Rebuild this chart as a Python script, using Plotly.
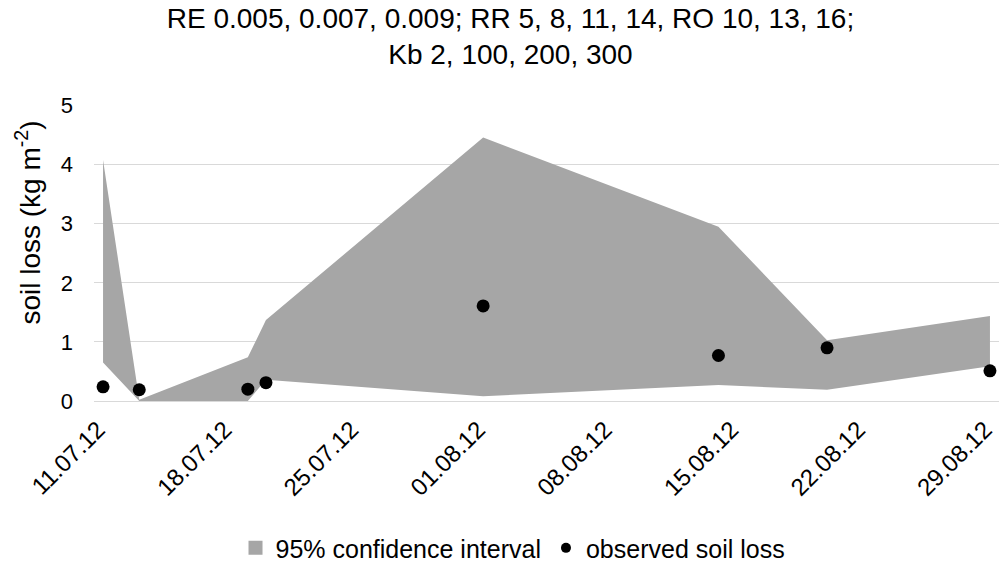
import plotly.graph_objects as go

band_dates = ["2012-07-11", "2012-07-13", "2012-07-19", "2012-07-20",
              "2012-08-01", "2012-08-14", "2012-08-20", "2012-08-29"]
band_upper = [4.08, 0.02, 0.74, 1.37, 4.46, 2.95, 1.03, 1.44]
band_lower = [0.65, 0.0, 0.0, 0.36, 0.08, 0.27, 0.19, 0.59]

obs_dates = ["2012-07-11", "2012-07-13", "2012-07-19", "2012-07-20",
             "2012-08-01", "2012-08-14", "2012-08-20", "2012-08-29"]
obs_values = [0.24, 0.19, 0.20, 0.31, 1.61, 0.77, 0.90, 0.51]

tick_dates = ["2012-07-11", "2012-07-18", "2012-07-25", "2012-08-01",
              "2012-08-08", "2012-08-15", "2012-08-22", "2012-08-29"]
tick_labels = ["11.07.12", "18.07.12", "25.07.12", "01.08.12",
               "08.08.12", "15.08.12", "22.08.12", "29.08.12"]

y_title = "soil loss (kg m<sup>-2</sup>)"
chart_title = "RE 0.005, 0.007, 0.009; RR 5, 8, 11, 14, RO 10, 13, 16;<br>Kb 2, 100, 200, 300"

FONT = "Liberation Sans, Arial, sans-serif"
BAND = "#a6a6a6"
GRID = "#d9d9d9"

fig = go.Figure()
fig.add_trace(go.Scatter(
    x=band_dates, y=band_lower, mode="lines", line=dict(width=0, color=BAND),
    showlegend=False, hoverinfo="skip", legendgroup="ci"))
fig.add_trace(go.Scatter(
    x=band_dates, y=band_upper, mode="lines", line=dict(width=0, color=BAND),
    fill="tonexty", fillcolor=BAND, showlegend=False, legendgroup="ci",
    name="95% confidence interval"))
# legend entries
fig.add_trace(go.Scatter(
    x=[None], y=[None], mode="markers", name="95% confidence interval",
    marker=dict(symbol="square", color=BAND, size=14), legendgroup="ci"))
fig.add_trace(go.Scatter(
    x=obs_dates, y=obs_values, mode="markers",
    marker=dict(color="black", size=13), showlegend=False, legendgroup="obs",
    name="observed soil loss"))
fig.add_trace(go.Scatter(
    x=[None], y=[None], mode="markers", name="observed soil loss",
    marker=dict(symbol="circle", color="black", size=10), legendgroup="obs"))

fig.add_annotation(
    text=y_title, textangle=-90, xref="paper", yref="paper",
    x=(28 - 94) / 905, y=(401 - 223) / 295.3, xanchor="center", yanchor="middle",
    showarrow=False, font=dict(size=28, family=FONT, color="#000000"))

fig.update_layout(
    width=999, height=566,
    margin=dict(l=94, r=0, t=105, b=165, autoexpand=False),
    paper_bgcolor="white", plot_bgcolor="white",
    font=dict(family=FONT, size=22, color="#000000"),
    title=dict(text=chart_title,
               x=0.511, xref="container", xanchor="center",
               y=1 - 28 / 566, yref="container", yanchor="middle",
               font=dict(size=28, family=FONT, color="#000000")),
    xaxis=dict(type="date", range=["2012-07-10 12:00", "2012-08-29 12:00"],
               tickvals=tick_dates, ticktext=tick_labels, tickangle=-45,
               ticklabeloverflow="allow", automargin=False, ticklabelshift=-5,
               showgrid=False, zeroline=False,
               showline=True, linecolor=GRID, linewidth=1,
               ticks="outside", ticklen=4, tickcolor="rgba(0,0,0,0)",
               tickfont=dict(size=24, family=FONT, color="#000000")),
    yaxis=dict(range=[0, 5.01], tickvals=[0, 1, 2, 3, 4, 5],
               showgrid=True, gridcolor=GRID, gridwidth=1,
               zeroline=False, showline=False, ticks="", automargin=False,
               ticklabelstandoff=20,
               tickfont=dict(size=22, family=FONT, color="#000000")),
    legend=dict(orientation="h", x=0.463, xanchor="center", y=-0.497, yanchor="middle",
                traceorder="normal",
                font=dict(size=25, family=FONT, color="#000000"), itemwidth=30),
)

fig.write_html("out.html")
